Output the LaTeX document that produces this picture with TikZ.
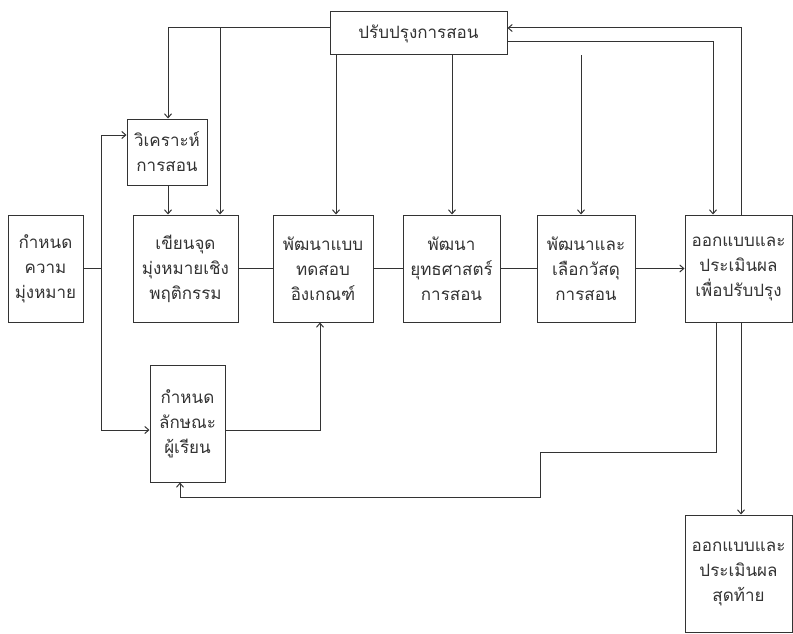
\documentclass[tikz,border=0pt]{standalone}
\usepackage{fontspec}
\newfontfamily\thaifont[Script=Thai]{Loma}
\usetikzlibrary{arrows.meta}
\begin{document}
\begin{tikzpicture}[x=1pt,y=-1pt,
  box/.style={draw=black!80, line width=1pt, align=center, inner sep=0pt,
    font=\thaifont\fontsize{17}{25}\selectfont, text=black!80},
  ln/.style={draw=black!80, line width=1pt},
  arr/.style={ln, -{Straight Barb[length=4pt,width=7pt]}}]
\useasboundingbox (0,0) rectangle (793,634);
\fill[white] (0,0) rectangle (793,634);
% boxes
\node[box, minimum width=177pt, minimum height=43pt] (rev) at (418.5,33.5) {ปรับปรุงการสอน};
\node[box, minimum width=80pt, minimum height=66pt] (anal) at (167,152) {วิเคราะห์\\การสอน};
\node[box, minimum width=75pt, minimum height=107pt] (goal) at (45.5,268.5) {กำหนด\\ความ\\มุ่งหมาย};
\node[box, minimum width=105pt, minimum height=107pt] (obj) at (185.5,268.5) {เขียนจุด\\มุ่งหมายเชิง\\พฤติกรรม};
\node[box, minimum width=100pt, minimum height=107pt] (test) at (323,268.5) {พัฒนาแบบ\\ทดสอบ\\อิงเกณฑ์};
\node[box, minimum width=97pt, minimum height=107pt] (strat) at (451.5,268.5) {พัฒนา\\ยุทธศาสตร์\\การสอน};
\node[box, minimum width=98pt, minimum height=107pt] (mat) at (586,268.5) {พัฒนาและ\\เลือกวัสดุ\\การสอน};
\node[box, minimum width=107pt, minimum height=107pt] (form) at (738.5,268.5) {ออกแบบและ\\ประเมินผล\\เพื่อปรับปรุง};
\node[box, minimum width=75pt, minimum height=117pt] (learner) at (187.5,423.5) {กำหนด\\ลักษณะ\\ผู้เรียน};
\node[box, minimum width=107pt, minimum height=117pt] (summ) at (738.5,573.5) {ออกแบบและ\\ประเมินผล\\สุดท้าย};
% helper coordinates
\coordinate (tl) at (168,28);
\coordinate (tm) at (220,28);
\coordinate (d1) at (336,0);
\coordinate (d2) at (452,0);
\coordinate (d3) at (581,0);
\coordinate (ro) at (713,42);
\coordinate (ri) at (741,28);
\coordinate (ja) at (101,135);
\coordinate (jl) at (101,430);
\coordinate (lt) at (320,430);
\coordinate (b1) at (716,452);
\coordinate (b2) at (540,452);
\coordinate (b3) at (540,497);
\coordinate (b4) at (180,497);
% connectors
\draw[ln] (rev.west |- tl) -- (tl);
\draw[arr] (tl) -- (tl |- anal.north);
\draw[arr] (tm) -- (tm |- obj.north);
\draw[arr] (d1 |- rev.south) -- (d1 |- test.north);
\draw[arr] (d2 |- rev.south) -- (d2 |- strat.north);
\draw[arr] (d3 |- rev.south) -- (d3 |- mat.north);
\draw[arr] (rev.east |- ro) -- (ro) -- (ro |- form.north);
\draw[arr] (ri |- form.north) -- (ri) -- (rev.east |- ri);
\draw[ln] (goal.east) -- (goal.east -| ja);
\draw[arr] (jl) -- (ja) -- (anal.west |- ja);
\draw[arr] (jl) -- (learner.west |- jl);
\draw[arr] (tl |- anal.south) -- (tl |- obj.north);
\draw[ln] (obj.east) -- (test.west);
\draw[ln] (test.east) -- (strat.west);
\draw[ln] (strat.east) -- (mat.west);
\draw[arr] (mat.east) -- (form.west);
\draw[arr] (learner.east |- lt) -- (lt) -- (lt |- test.south);
\draw[arr] (b1 |- form.south) -- (b1) -- (b2) -- (b3) -- (b4) -- (b4 |- learner.south);
\draw[arr] (ri |- form.south) -- (ri |- summ.north);
\end{tikzpicture}
\end{document}
